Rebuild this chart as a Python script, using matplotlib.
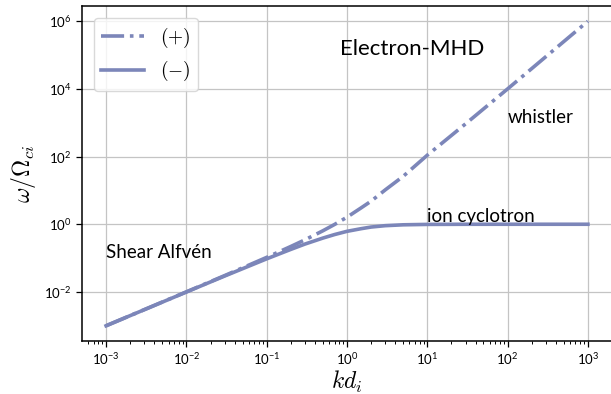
import matplotlib
matplotlib.use("Agg")
import matplotlib.pyplot as plt

plt.rcParams['font.family'] = ['Lato', 'DejaVu Sans']
plt.rcParams['mathtext.fontset'] = 'cm'

# values
kd = [1e-3, 3e-3, 1e-2, 3e-2, 0.1, 0.2, 0.3, 0.5, 0.7, 1.0, 1.5, 2.0, 3.0,
      5.0, 10.0, 30.0, 100.0, 300.0, 1000.0]
w_plus = [1.0005e-3, 3.0045e-3, 1.005e-2, 3.045e-2, 0.105, 0.221, 0.347,
          0.640, 0.986, 1.618, 3.05, 4.83, 10.4, 26.0, 110.0, 930.0,
          1.0001e4, 9.0e4, 1.0e6]
w_minus = [0.9995e-3, 2.9955e-3, 0.995e-2, 2.955e-2, 0.0951, 0.181, 0.260,
           0.390, 0.496, 0.618, 0.740, 0.828, 0.908, 0.963, 0.990, 0.9989,
           0.9999, 1.0, 1.0]
labels = ['$(+)$', '$(-)$']
annotations = [("Electron-MHD", 0.82, 1e5, 16),
               ("whistler", 100.0, 1e3, 13.5),
               ("ion cyclotron", 10.0, 1.2, 13.5),
               ("Shear Alfvén", 1e-3, 0.1, 13.5)]

color = '#7c86b9'

fig = plt.figure(figsize=(6.11, 3.94), dpi=100)
ax = fig.add_axes([82/611, 53/394, 530/611, 335/394])

ax.plot(kd, w_plus, '-.', color=color, lw=2.6, label=labels[0])
ax.plot(kd, w_minus, '-', color=color, lw=2.6, label=labels[1])
ax.set_xscale('log')
ax.set_yscale('log')

ax.grid(True, which='major', color='#c4c4c4', lw=0.9)
ax.set_axisbelow(True)
for s in ax.spines.values():
    s.set_color('black')
    s.set_linewidth(1.1)
ax.tick_params(which='major', direction='out', length=4, width=0.9, labelsize=9.5)
ax.tick_params(which='minor', direction='out', length=2.2, width=0.7)

ax.set_xlabel('$kd_i$', fontsize=17, labelpad=1)
ax.set_ylabel(r'$\omega/\Omega_{ci}$', fontsize=17, labelpad=4)

for txt, x, y, fs in annotations:
    ax.text(x, y, txt, fontsize=fs, ha='left', va='baseline')

leg = ax.legend(loc='upper left', fontsize=14, handlelength=2.2,
                borderaxespad=0.6, fancybox=True, framealpha=0.8,
                edgecolor='#d0d0d0')

fig.savefig('out.png', dpi=100)
